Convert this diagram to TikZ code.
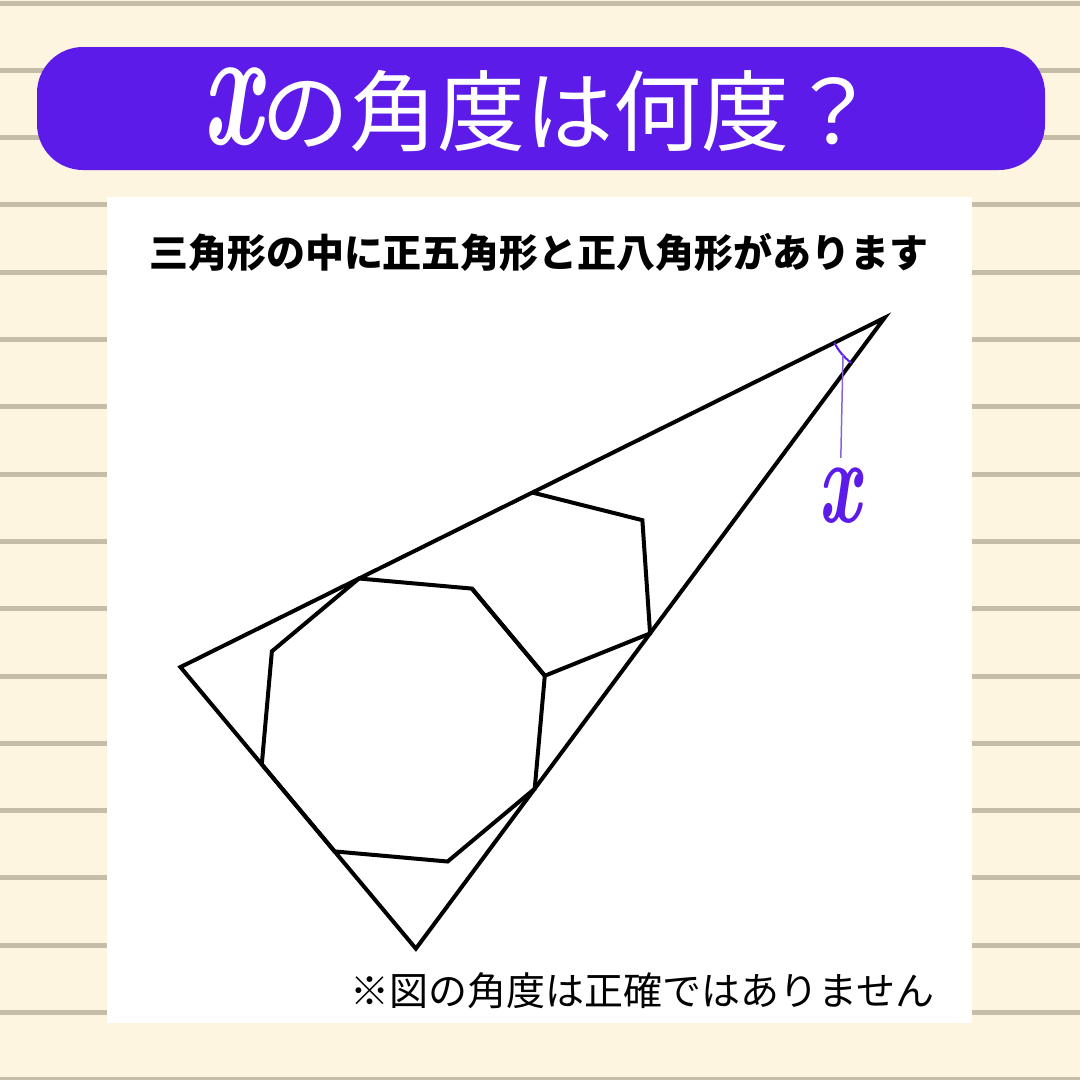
\documentclass[tikz,border=0pt]{standalone}
\usepackage{fontspec}
\usepackage{tikz}
\usetikzlibrary{angles}
\newfontfamily\jp{Noto Sans CJK JP}
\definecolor{paper}{RGB}{253,245,223}
\definecolor{ruling}{RGB}{197,189,168}
\definecolor{banner}{RGB}{92,27,232}
\definecolor{pointer}{RGB}{138,100,222}
\newcommand{\varx}[1]{\scalebox{0.62}[1]{\fontsize{#1}{#1}\selectfont\rmfamily\bfseries\itshape x}}

\begin{document}
\begin{tikzpicture}[x=1pt, y=-1pt,
		figline/.style={line width=4pt, line join=miter, black},
		anglearc/.style={draw=banner, line width=2pt, angle radius=56pt}]
	\useasboundingbox (0,0) rectangle (1080,1080);
	\fill[paper] (0,0) rectangle (1080,1080);
	\foreach \k in {0,...,16}
		\fill[ruling] (0,{0.5+67.3*\k}) rectangle (1080,{5.5+67.3*\k});
	\fill[white] (107,197) rectangle (972,1023);
	\fill[banner, rounded corners=46pt] (37,47) rectangle (1045,170);

	\node (title) [anchor=base, text=white, inner sep=0] at (540,144)
		{\fontsize{88}{88}\selectfont\varx{170}\jp の角度は何度？};
	\node (task) [anchor=base, inner sep=0] at (539,267)
		{\fontsize{39}{39}\selectfont\jp\bfseries 三角形の中に正五角形と正八角形があります};
	\node (note) [anchor=base east, inner sep=0] at (935,1005)
		{\fontsize{39}{39}\selectfont\jp ※図の角度は正確ではありません};

	\foreach \k in {1,...,8}
		\coordinate (o\k) at ([shift={(403.3,720)}] {-152.4+45*\k}:148.3);
	\foreach \k in {1,...,5}
		\coordinate (p\k) at ([shift={(568.3,582.1)}] {-183.9+72*\k}:96.55);
	\coordinate (A) at (intersection of o1--p1 and o6--o7);
	\coordinate (B) at (intersection of o1--p1 and o4--p3);
	\coordinate (C) at (intersection of o6--o7 and o4--p3);

	\draw[figline] (A) -- (B) -- (C) -- cycle;
	\draw[figline] (o1) -- (o2) -- (o3) -- (o4) -- (o5) -- (o6) -- (o7) -- (o8) -- cycle;
	\draw[figline] (p1) -- (p2) -- (p3) -- (p4) -- (p5);

	\pic[anglearc] {angle=A--B--C};
	\coordinate (tip) at (843,355);
	\node (xlab) [text=banner, inner sep=10pt] at (840,496) {\varx{121}};
	\draw[pointer, line width=1.5pt] (tip) -- (xlab);
\end{tikzpicture}
\end{document}
